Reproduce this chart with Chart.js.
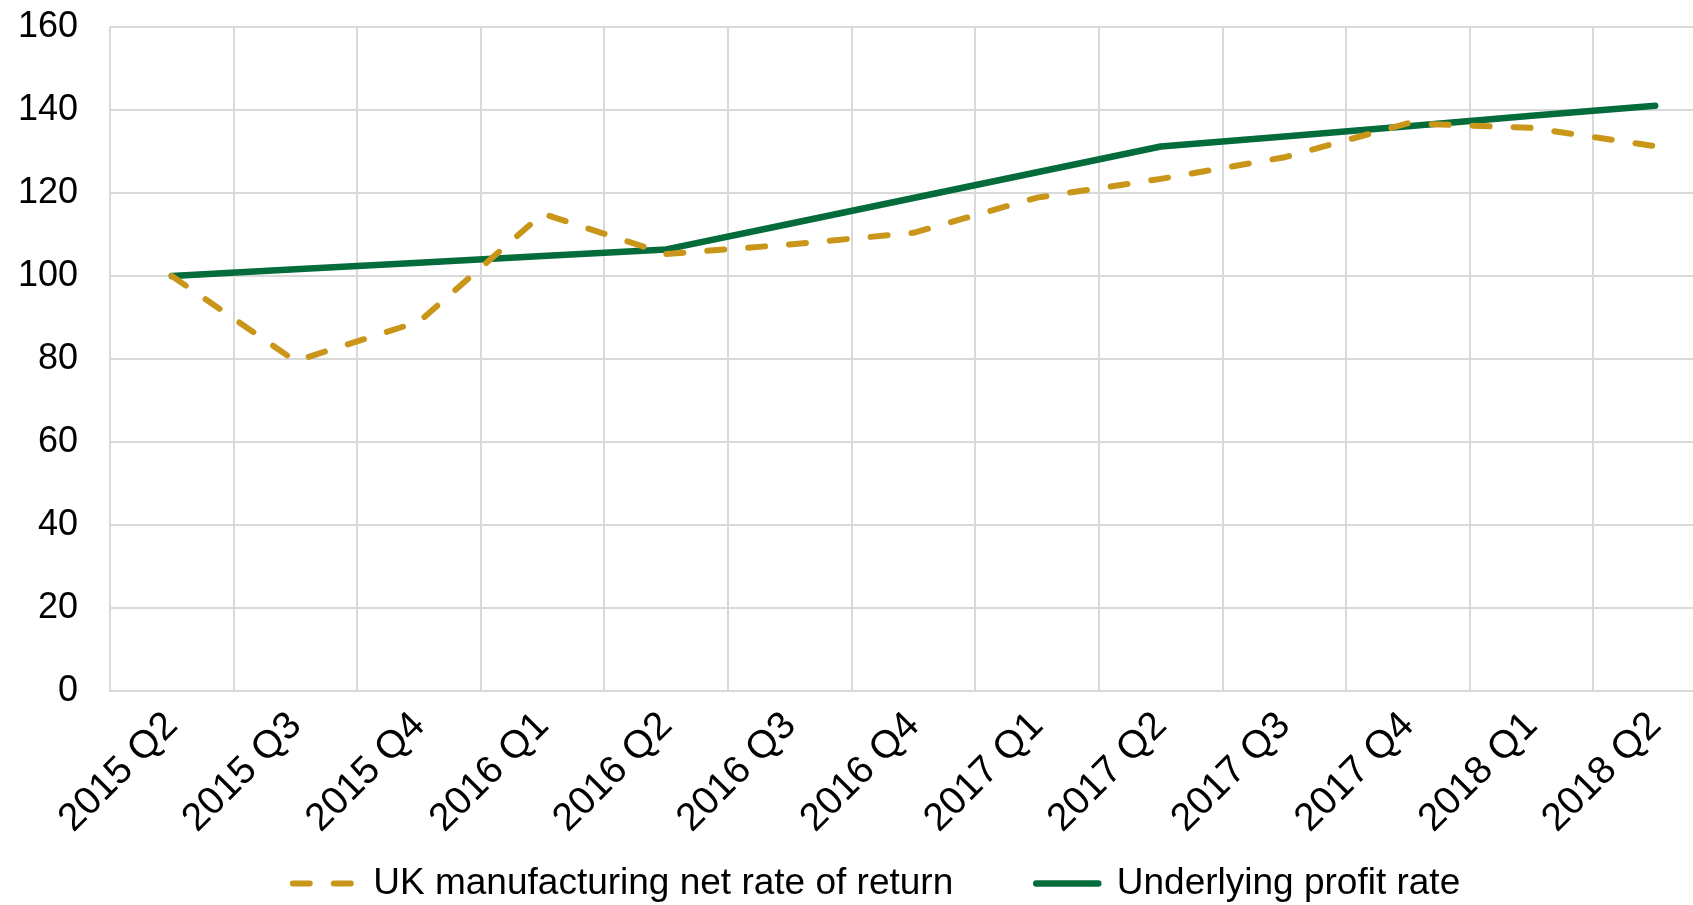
<!DOCTYPE html>
<html>
<head>
<meta charset="utf-8">
<script src="https://cdn.jsdelivr.net/npm/chart.js"></script>
<style>
  html, body { margin: 0; padding: 0; background: #fff; overflow: hidden; }
  canvas { display: block; }
</style>
</head>
<body>
<canvas id="myChart" width="1788" height="905"></canvas>
<script>
const quarters = ['2015 Q2', '2015 Q3', '2015 Q4', '2016 Q1', '2016 Q2', '2016 Q3', '2016 Q4',
    '2017 Q1', '2017 Q2', '2017 Q3', '2017 Q4', '2018 Q1', '2018 Q2'];
const netRateOfReturn = [100, 79.5, 89, 115, 105.3, 107.6, 110.4, 118.9, 123.4, 128.6, 136.8, 135.7, 131.3];
const underlyingProfit = [100, 101.6, 103.2, 104.8, 106.4, 112.6, 118.8, 125.0, 131.2, 133.6, 136.1, 138.6, 141.0];
const yTicks = [0, 20, 40, 60, 80, 100, 120, 140, 160];

const fontFamily = "'Liberation Sans', Arial, sans-serif";
const gridColor = '#d9d9d9';

const ctx = document.getElementById('myChart');
const chart = new Chart(ctx, {
    type: 'line',
    data: {
        labels: quarters,
        datasets: [
            {
                label: 'UK manufacturing net rate of return',
                data: netRateOfReturn,
                borderColor: '#c9961a',
                backgroundColor: '#c9961a',
                borderWidth: 6,
                borderDash: [17, 24],
                borderCapStyle: 'round',
                pointRadius: 0,
                pointStyle: 'line',
                tension: 0,
                fill: false
            },
            {
                label: 'Underlying profit rate',
                data: underlyingProfit,
                borderColor: '#046b3a',
                backgroundColor: '#046b3a',
                borderWidth: 6.5,
                borderCapStyle: 'round',
                borderJoinStyle: 'round',
                pointRadius: 0,
                pointStyle: 'line',
                tension: 0,
                fill: false
            }
        ]
    },
    options: {
        responsive: false,
        animation: false,
        layout: { padding: { top: 27, right: 71, bottom: -7, left: 36 } },
        plugins: {
            legend: {
                position: 'bottom',
                labels: {
                    usePointStyle: true,
                    pointStyleWidth: 62,
                    padding: 83,
                    color: '#000',
                    font: { size: 37, family: fontFamily },
                    generateLabels: (c) => {
                        const items = Chart.defaults.plugins.legend.labels.generateLabels(c);
                        items.forEach((item) => {
                            const ds = c.data.datasets[item.datasetIndex];
                            item.lineDash = ds.borderDash || [];
                            item.lineWidth = ds.borderWidth;
                            item.lineCap = 'round';
                        });
                        return items;
                    }
                }
            },
            tooltip: { enabled: false }
        },
        scales: {
            x: {
                offset: true,
                grid: { offset: true, color: gridColor, lineWidth: 2, drawTicks: false },
                border: { color: gridColor, width: 2 },
                ticks: {
                    minRotation: 45,
                    maxRotation: 45,
                    padding: 12,
                    color: '#000',
                    font: { size: 39, family: fontFamily }
                },
                afterFit: (scale) => {
                    scale.height = 91;
                    // let the rotated labels run past the scale box
                    scale._computeLabelArea = () => undefined;
                }
            },
            y: {
                min: 0,
                max: 160,
                afterBuildTicks: (scale) => { scale.ticks = yTicks.map(v => ({ value: v })); },
                grid: { color: gridColor, lineWidth: 2, drawTicks: false },
                border: { color: gridColor, width: 2 },
                ticks: {
                    padding: 32,
                    color: '#000',
                    font: { size: 36, family: fontFamily }
                },
                afterFit: (scale) => {
                    scale.width = 74;
                    scale.paddingTop = 0;
                    scale.paddingBottom = 0;
                    scale._computeLabelArea = () => undefined;
                }
            }
        }
    }
});
</script>
</body>
</html>
